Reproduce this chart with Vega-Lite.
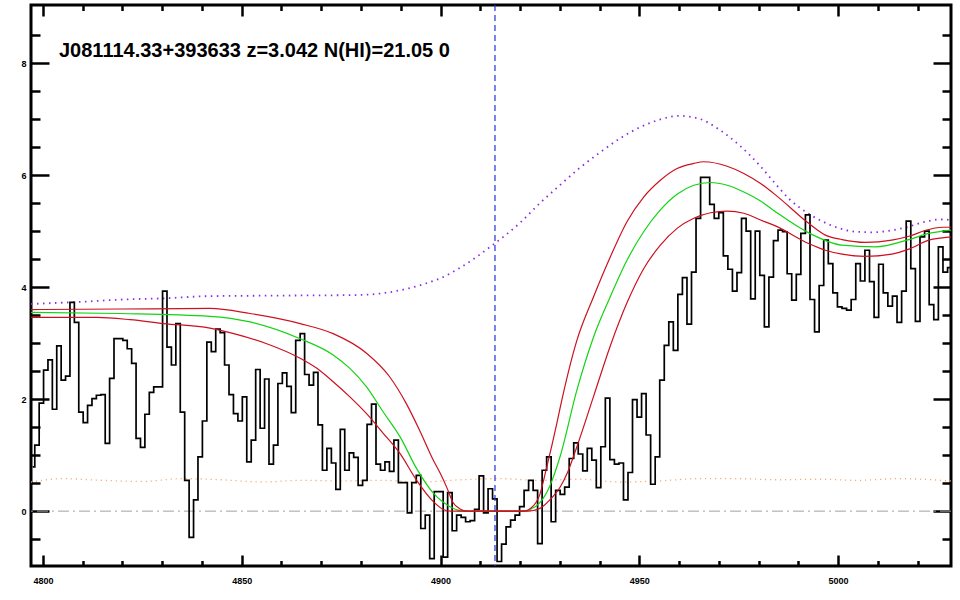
{
  "$schema": "https://vega.github.io/schema/vega-lite/v6.json",
  "width": 920,
  "height": 561,
  "autosize": {"type": "none"},
  "padding": {"left": 31, "top": 5, "right": 9, "bottom": 34},
  "background": "white",
  "config": {"view": {"stroke": "black", "strokeWidth": 3}},
  "title": {"text": "J081114.33+393633 z=3.042 N(HI)=21.05 0", "anchor": "start", "frame": "group", "orient": "top", "offset": -73, "dx": 28, "baseline": "alphabetic", "font": "Liberation Sans", "fontSize": 20, "fontWeight": "bold", "color": "black"},
  "datasets": {
    "spec": [
      {"w":4797.40,"f":0.79},{"w":4798.50,"f":1.18},{"w":4799.61,"f":1.93},{"w":4800.71,"f":2.52},{"w":4801.82,"f":2.70},{"w":4802.92,"f":1.82},{"w":4804.03,"f":2.95},{"w":4805.14,"f":2.34},{"w":4806.24,"f":2.41},{"w":4807.35,"f":3.73},
      {"w":4808.46,"f":3.37},{"w":4809.57,"f":1.77},{"w":4810.68,"f":1.58},{"w":4811.78,"f":1.89},{"w":4812.89,"f":2.01},{"w":4814.00,"f":2.07},{"w":4815.11,"f":2.08},{"w":4816.22,"f":1.21},{"w":4817.32,"f":2.37},{"w":4818.43,"f":3.08},
      {"w":4819.54,"f":3.08},{"w":4820.65,"f":3.05},{"w":4821.76,"f":2.90},{"w":4822.87,"f":2.64},{"w":4823.98,"f":1.30},{"w":4825.09,"f":1.14},{"w":4826.20,"f":1.73},{"w":4827.31,"f":2.12},{"w":4828.42,"f":2.22},{"w":4829.53,"f":2.22},
      {"w":4830.65,"f":3.93},{"w":4831.76,"f":2.93},{"w":4832.87,"f":2.61},{"w":4833.99,"f":3.35},{"w":4835.10,"f":1.77},{"w":4836.21,"f":0.55},{"w":4837.33,"f":-0.47},{"w":4838.44,"f":0.20},{"w":4839.55,"f":0.97},{"w":4840.67,"f":1.61},
      {"w":4841.79,"f":3.02},{"w":4842.90,"f":2.85},{"w":4844.02,"f":3.25},{"w":4845.13,"f":3.19},{"w":4846.25,"f":2.61},{"w":4847.36,"f":2.08},{"w":4848.48,"f":1.74},{"w":4849.60,"f":1.61},{"w":4850.71,"f":2.04},{"w":4851.83,"f":0.88},
      {"w":4852.95,"f":1.27},{"w":4854.07,"f":2.53},{"w":4855.19,"f":1.48},{"w":4856.30,"f":2.36},{"w":4857.42,"f":0.84},{"w":4858.54,"f":1.18},{"w":4859.66,"f":2.28},{"w":4860.78,"f":2.47},{"w":4861.90,"f":2.23},{"w":4863.02,"f":1.76},
      {"w":4864.14,"f":3.05},{"w":4865.26,"f":3.17},{"w":4866.38,"f":2.44},{"w":4867.50,"f":2.25},{"w":4868.62,"f":2.48},{"w":4869.74,"f":1.54},{"w":4870.86,"f":0.73},{"w":4871.99,"f":1.12},{"w":4873.11,"f":0.86},{"w":4874.23,"f":0.39},
      {"w":4875.35,"f":1.46},{"w":4876.47,"f":0.73},{"w":4877.60,"f":1.04},{"w":4878.72,"f":0.96},{"w":4879.84,"f":0.46},{"w":4880.97,"f":0.55},{"w":4882.09,"f":1.55},{"w":4883.21,"f":1.91},{"w":4884.34,"f":0.84},{"w":4885.46,"f":0.73},
      {"w":4886.59,"f":0.88},{"w":4887.72,"f":0.71},{"w":4888.84,"f":1.27},{"w":4889.97,"f":0.51},{"w":4891.09,"f":0.51},{"w":4892.22,"f":-0.03},{"w":4893.34,"f":0.51},{"w":4894.47,"f":0.64},{"w":4895.60,"f":-0.31},{"w":4896.72,"f":-0.07},
      {"w":4897.85,"f":-0.85},{"w":4898.98,"f":0.35},{"w":4900.11,"f":0.35},{"w":4901.23,"f":-0.82},{"w":4902.36,"f":0.33},{"w":4903.49,"f":-0.35},{"w":4904.62,"f":-0.07},{"w":4905.75,"f":-0.11},{"w":4906.88,"f":-0.19},{"w":4908.01,"f":-0.17},
      {"w":4909.14,"f":0.03},{"w":4910.27,"f":0.63},{"w":4911.40,"f":-0.03},{"w":4912.53,"f":0.40},{"w":4913.66,"f":0.22},{"w":4914.79,"f":-0.90},{"w":4915.93,"f":-0.59},{"w":4917.06,"f":-0.28},{"w":4918.19,"f":-0.16},{"w":4919.32,"f":-0.07},
      {"w":4920.46,"f":0.08},{"w":4921.59,"f":0.37},{"w":4922.73,"f":0.55},{"w":4923.86,"f":0.37},{"w":4924.99,"f":-0.58},{"w":4926.13,"f":0.73},{"w":4927.26,"f":0.97},{"w":4928.39,"f":-0.19},{"w":4929.53,"f":0.37},{"w":4930.66,"f":0.30},
      {"w":4931.80,"f":0.43},{"w":4932.94,"f":0.94},{"w":4934.07,"f":1.22},{"w":4935.21,"f":1.02},{"w":4936.34,"f":0.72},{"w":4937.48,"f":1.12},{"w":4938.62,"f":0.91},{"w":4939.75,"f":0.42},{"w":4940.89,"f":1.15},{"w":4942.03,"f":2.02},
      {"w":4943.17,"f":0.92},{"w":4944.31,"f":0.84},{"w":4945.45,"f":0.86},{"w":4946.59,"f":0.20},{"w":4947.72,"f":0.69},{"w":4948.86,"f":1.99},{"w":4950.00,"f":1.68},{"w":4951.14,"f":2.10},{"w":4952.28,"f":1.36},{"w":4953.42,"f":0.48},
      {"w":4954.57,"f":0.97},{"w":4955.71,"f":2.34},{"w":4956.85,"f":2.96},{"w":4957.99,"f":3.38},{"w":4959.13,"f":2.87},{"w":4960.27,"f":3.87},{"w":4961.42,"f":4.17},{"w":4962.56,"f":3.34},{"w":4963.70,"f":4.27},{"w":4964.84,"f":5.23},
      {"w":4965.99,"f":5.96},{"w":4967.13,"f":5.96},{"w":4968.28,"f":5.48},{"w":4969.42,"f":5.23},{"w":4970.56,"f":5.33},{"w":4971.71,"f":4.56},{"w":4972.85,"f":4.32},{"w":4974.00,"f":3.93},{"w":4975.14,"f":4.26},{"w":4976.29,"f":5.23},
      {"w":4977.44,"f":5.00},{"w":4978.59,"f":3.79},{"w":4979.73,"f":5.00},{"w":4980.88,"f":4.21},{"w":4982.03,"f":3.29},{"w":4983.17,"f":4.18},{"w":4984.32,"f":4.83},{"w":4985.47,"f":5.02},{"w":4986.61,"f":4.99},{"w":4987.76,"f":4.24},
      {"w":4988.91,"f":3.77},{"w":4990.06,"f":4.23},{"w":4991.21,"f":4.96},{"w":4992.36,"f":5.29},{"w":4993.51,"f":3.78},{"w":4994.66,"f":3.20},{"w":4995.81,"f":4.03},{"w":4996.96,"f":4.84},{"w":4998.11,"f":4.42},{"w":4999.26,"f":3.90},
      {"w":5000.41,"f":3.65},{"w":5001.56,"f":3.62},{"w":5002.71,"f":3.59},{"w":5003.87,"f":3.78},{"w":5005.02,"f":4.42},{"w":5006.17,"f":4.11},{"w":5007.32,"f":4.66},{"w":5008.48,"f":4.10},{"w":5009.63,"f":3.46},{"w":5010.78,"f":4.41},
      {"w":5011.94,"f":3.90},{"w":5013.09,"f":3.66},{"w":5014.25,"f":3.84},{"w":5015.40,"f":3.37},{"w":5016.56,"f":3.93},{"w":5017.71,"f":5.18},{"w":5018.87,"f":4.33},{"w":5020.02,"f":3.39},{"w":5021.18,"f":4.90},{"w":5022.33,"f":5.00},
      {"w":5023.49,"f":3.69},{"w":5024.65,"f":3.42},{"w":5025.80,"f":4.72},{"w":5026.96,"f":4.27},{"w":5028.12,"f":4.35}
    ],
    "curves": [
      {"s":"fit","w":4797,"f":3.55},{"s":"fit","w":4819.4,"f":3.53},{"s":"fit","w":4842,"f":3.48},{"s":"fit","w":4852.1,"f":3.38},{"s":"fit","w":4864.7,"f":3.08},{"s":"fit","w":4873,"f":2.79},{"s":"fit","w":4877.2,"f":2.55},{"s":"fit","w":4881.4,"f":2.22},{"s":"fit","w":4885.6,"f":1.77},{"s":"fit","w":4889.8,"f":1.33},{"s":"fit","w":4894,"f":0.76},{"s":"fit","w":4898.2,"f":0.32},{"s":"fit","w":4902.4,"f":0.08},{"s":"fit","w":4904.9,"f":0.01},{"s":"fit","w":4906.5,"f":0},{"s":"fit","w":4920,"f":0},{"s":"fit","w":4922.5,"f":0.03},{"s":"fit","w":4925,"f":0.15},{"s":"fit","w":4927.5,"f":0.45},{"s":"fit","w":4930.1,"f":0.98},{"s":"fit","w":4934.3,"f":2.16},{"s":"fit","w":4938.5,"f":3.11},{"s":"fit","w":4942.7,"f":3.83},{"s":"fit","w":4946.9,"f":4.48},{"s":"fit","w":4951.1,"f":4.99},{"s":"fit","w":4955.3,"f":5.38},{"s":"fit","w":4959.5,"f":5.66},{"s":"fit","w":4963.7,"f":5.82},{"s":"fit","w":4967.9,"f":5.87},{"s":"fit","w":4972.1,"f":5.82},{"s":"fit","w":4976.3,"f":5.70},{"s":"fit","w":4980.5,"f":5.54},{"s":"fit","w":4984.4,"f":5.34},{"s":"fit","w":4992.6,"f":4.97},{"s":"fit","w":5001,"f":4.75},{"s":"fit","w":5009.4,"f":4.72},{"s":"fit","w":5017.8,"f":4.85},{"s":"fit","w":5022.8,"f":4.96},{"s":"fit","w":5028.4,"f":5.02},
      {"s":"hi","w":4797,"f":3.60},{"s":"hi","w":4820,"f":3.61},{"s":"hi","w":4842,"f":3.62},{"s":"hi","w":4852.1,"f":3.53},{"s":"hi","w":4864.7,"f":3.35},{"s":"hi","w":4873,"f":3.17},{"s":"hi","w":4881.4,"f":2.82},{"s":"hi","w":4887.2,"f":2.40},{"s":"hi","w":4891.4,"f":1.92},{"s":"hi","w":4894.7,"f":1.45},{"s":"hi","w":4898.2,"f":0.91},{"s":"hi","w":4899.9,"f":0.68},{"s":"hi","w":4901.6,"f":0.42},{"s":"hi","w":4903.1,"f":0.16},{"s":"hi","w":4904.9,"f":0.04},{"s":"hi","w":4906.6,"f":0},{"s":"hi","w":4921,"f":0},{"s":"hi","w":4922.7,"f":0.05},{"s":"hi","w":4925,"f":0.30},{"s":"hi","w":4926.7,"f":0.78},{"s":"hi","w":4929.2,"f":1.55},{"s":"hi","w":4930.1,"f":1.85},{"s":"hi","w":4934.3,"f":3.05},{"s":"hi","w":4938.5,"f":3.83},{"s":"hi","w":4942.7,"f":4.54},{"s":"hi","w":4946.9,"f":5.17},{"s":"hi","w":4951.1,"f":5.61},{"s":"hi","w":4955.3,"f":5.91},{"s":"hi","w":4959.5,"f":6.12},{"s":"hi","w":4963.7,"f":6.21},{"s":"hi","w":4966.2,"f":6.24},{"s":"hi","w":4972.1,"f":6.16},{"s":"hi","w":4976.3,"f":6.03},{"s":"hi","w":4980.5,"f":5.85},{"s":"hi","w":4984.4,"f":5.64},{"s":"hi","w":4992.6,"f":5.14},{"s":"hi","w":4996.8,"f":4.93},{"s":"hi","w":5001,"f":4.85},{"s":"hi","w":5006.8,"f":4.80},{"s":"hi","w":5013.5,"f":4.84},{"s":"hi","w":5017.8,"f":4.91},{"s":"hi","w":5022.8,"f":5.03},{"s":"hi","w":5026.2,"f":5.07},{"s":"hi","w":5028.4,"f":5.07},
      {"s":"lo","w":4797,"f":3.46},{"s":"lo","w":4813.5,"f":3.46},{"s":"lo","w":4821.9,"f":3.42},{"s":"lo","w":4830.3,"f":3.35},{"s":"lo","w":4842,"f":3.27},{"s":"lo","w":4848,"f":3.17},{"s":"lo","w":4856.3,"f":2.99},{"s":"lo","w":4864.7,"f":2.73},{"s":"lo","w":4868.9,"f":2.55},{"s":"lo","w":4873,"f":2.31},{"s":"lo","w":4877.2,"f":2.04},{"s":"lo","w":4881.4,"f":1.74},{"s":"lo","w":4885.6,"f":1.39},{"s":"lo","w":4889.8,"f":1.03},{"s":"lo","w":4894,"f":0.55},{"s":"lo","w":4898.2,"f":0.17},{"s":"lo","w":4900.7,"f":0.03},{"s":"lo","w":4902.5,"f":0},{"s":"lo","w":4921.8,"f":0},{"s":"lo","w":4925,"f":0.05},{"s":"lo","w":4927.5,"f":0.20},{"s":"lo","w":4930.1,"f":0.43},{"s":"lo","w":4932,"f":0.70},{"s":"lo","w":4934.3,"f":1.15},{"s":"lo","w":4938.5,"f":2.05},{"s":"lo","w":4942.7,"f":2.95},{"s":"lo","w":4946.9,"f":3.72},{"s":"lo","w":4951.1,"f":4.33},{"s":"lo","w":4955.3,"f":4.75},{"s":"lo","w":4959.5,"f":5.05},{"s":"lo","w":4963.7,"f":5.23},{"s":"lo","w":4967.9,"f":5.33},{"s":"lo","w":4972.1,"f":5.36},{"s":"lo","w":4976.3,"f":5.32},{"s":"lo","w":4980.5,"f":5.20},{"s":"lo","w":4984.4,"f":5.09},{"s":"lo","w":4992.6,"f":4.78},{"s":"lo","w":4996.8,"f":4.66},{"s":"lo","w":5001,"f":4.59},{"s":"lo","w":5006.8,"f":4.55},{"s":"lo","w":5013.5,"f":4.59},{"s":"lo","w":5017.8,"f":4.68},{"s":"lo","w":5022.8,"f":4.84},{"s":"lo","w":5028.4,"f":4.90},
      {"s":"cont","w":4797,"f":3.70},{"s":"cont","w":4810,"f":3.74},{"s":"cont","w":4820,"f":3.78},{"s":"cont","w":4830,"f":3.80},{"s":"cont","w":4842,"f":3.84},{"s":"cont","w":4860,"f":3.85},{"s":"cont","w":4879,"f":3.86},{"s":"cont","w":4884,"f":3.88},{"s":"cont","w":4888,"f":3.92},{"s":"cont","w":4892,"f":3.98},{"s":"cont","w":4896,"f":4.06},{"s":"cont","w":4900,"f":4.16},{"s":"cont","w":4905,"f":4.35},{"s":"cont","w":4912.5,"f":4.72},{"s":"cont","w":4920,"f":5.15},{"s":"cont","w":4925,"f":5.50},{"s":"cont","w":4930,"f":5.82},{"s":"cont","w":4935,"f":6.13},{"s":"cont","w":4940,"f":6.40},{"s":"cont","w":4945,"f":6.65},{"s":"cont","w":4950,"f":6.85},{"s":"cont","w":4955,"f":6.99},{"s":"cont","w":4960,"f":7.06},{"s":"cont","w":4965,"f":7.01},{"s":"cont","w":4970,"f":6.82},{"s":"cont","w":4975.4,"f":6.52},{"s":"cont","w":4980.2,"f":6.18},{"s":"cont","w":4983.6,"f":5.90},{"s":"cont","w":4987.8,"f":5.57},{"s":"cont","w":4992,"f":5.34},{"s":"cont","w":4996.2,"f":5.17},{"s":"cont","w":5000.4,"f":5.05},{"s":"cont","w":5004.6,"f":4.99},{"s":"cont","w":5008.8,"f":4.98},{"s":"cont","w":5013.8,"f":5.02},{"s":"cont","w":5017.2,"f":5.07},{"s":"cont","w":5021.4,"f":5.16},{"s":"cont","w":5025.6,"f":5.21},{"s":"cont","w":5028.4,"f":5.20},
      {"s":"err","w":4797,"f":0.52},{"s":"err","w":4805,"f":0.58},{"s":"err","w":4815,"f":0.55},{"s":"err","w":4825,"f":0.53},{"s":"err","w":4835,"f":0.58},{"s":"err","w":4845,"f":0.56},{"s":"err","w":4855,"f":0.52},{"s":"err","w":4865,"f":0.55},{"s":"err","w":4875,"f":0.54},{"s":"err","w":4885,"f":0.55},{"s":"err","w":4895,"f":0.52},{"s":"err","w":4905,"f":0.56},{"s":"err","w":4915,"f":0.58},{"s":"err","w":4925,"f":0.55},{"s":"err","w":4935,"f":0.57},{"s":"err","w":4945,"f":0.52},{"s":"err","w":4955,"f":0.54},{"s":"err","w":4965,"f":0.58},{"s":"err","w":4975,"f":0.58},{"s":"err","w":4985,"f":0.56},{"s":"err","w":4995,"f":0.57},{"s":"err","w":5005,"f":0.55},{"s":"err","w":5015,"f":0.58},{"s":"err","w":5028.4,"f":0.54}
    ],
    "zero": [{"f": 0}],
    "lya": [{"w": 4913.7}]
  },
  "resolve": {"axis": {"x": "independent", "y": "independent"}},
  "layer": [
    {
      "data": {"name": "zero"},
      "mark": {"type": "rule", "color": "#A0A0A0", "strokeWidth": 1, "strokeDash": [11, 4, 2, 4]},
      "encoding": {
        "y": {"field": "f", "type": "quantitative", "scale": {"domain": [-0.98, 9.04], "nice": false, "zero": false},
              "axis": {"orient": "left", "values": [0, 2, 4, 6, 8], "tickSize": -18, "tickWidth": 2.5, "tickColor": "black", "labels": false, "domain": false, "grid": false, "title": null}}
      }
    },
    {
      "data": {"name": "curves"},
      "transform": [{"filter": "datum.s === 'err'"}],
      "mark": {"type": "line", "color": "#F59A5A", "strokeWidth": 1.3, "strokeDash": [1, 4], "clip": true, "interpolate": "monotone"},
      "encoding": {
        "x": {"field": "w", "type": "quantitative", "scale": {"domain": [4797.0, 5028.4], "nice": false, "zero": false},
              "axis": {"orient": "bottom", "values": [4800, 4850, 4900, 4950, 5000], "format": "d", "tickSize": -11, "tickWidth": 2.5, "tickColor": "black", "domain": false, "grid": false, "title": null, "labelPadding": 21, "labelFont": "Liberation Sans", "labelFontSize": 9, "labelFontWeight": "bold", "labelColor": "black"}},
        "y": {"field": "f", "type": "quantitative",
              "axis": {"orient": "left", "values": [-0.5, 0.5, 1, 1.5, 2.5, 3, 3.5, 4.5, 5, 5.5, 6.5, 7, 7.5, 8.5], "tickSize": -9, "tickWidth": 2.5, "tickColor": "black", "labels": false, "domain": false, "grid": false, "title": null}}
      }
    },
    {
      "data": {"name": "curves"},
      "transform": [{"filter": "datum.s === 'cont'"}],
      "mark": {"type": "line", "color": "#8A2BE2", "strokeWidth": 1.8, "strokeDash": [1.5, 4.5], "clip": true, "interpolate": "monotone"},
      "encoding": {
        "x": {"field": "w", "type": "quantitative",
              "axis": {"orient": "bottom", "values": [4810, 4820, 4830, 4840, 4860, 4870, 4880, 4890, 4910, 4920, 4930, 4940, 4960, 4970, 4980, 4990, 5010, 5020], "tickSize": -5.5, "tickWidth": 2.5, "tickColor": "black", "labels": false, "domain": false, "grid": false, "title": null}},
        "y": {"field": "f", "type": "quantitative",
              "axis": {"orient": "right", "values": [0, 2, 4, 6, 8], "tickSize": -18, "tickWidth": 2.5, "tickColor": "black", "labels": false, "domain": false, "grid": false, "title": null}}
      }
    },
    {
      "data": {"name": "spec"},
      "mark": {"type": "line", "color": "black", "strokeWidth": 1.7, "interpolate": "step", "clip": true},
      "encoding": {
        "x": {"field": "w", "type": "quantitative",
              "axis": {"orient": "top", "values": [4800, 4850, 4900, 4950, 5000], "tickSize": -11, "tickWidth": 2.5, "tickColor": "black", "labels": false, "domain": false, "grid": false, "title": null}},
        "y": {"field": "f", "type": "quantitative",
              "axis": {"orient": "right", "values": [-0.5, 0.5, 1, 1.5, 2.5, 3, 3.5, 4.5, 5, 5.5, 6.5, 7, 7.5, 8.5], "tickSize": -9, "tickWidth": 2.5, "tickColor": "black", "labels": false, "domain": false, "grid": false, "title": null}}
      }
    },
    {
      "data": {"name": "curves"},
      "transform": [{"filter": "datum.s === 'fit'"}],
      "mark": {"type": "line", "color": "#12D412", "strokeWidth": 1.2, "clip": true, "interpolate": "monotone"},
      "encoding": {
        "x": {"field": "w", "type": "quantitative",
              "axis": {"orient": "top", "values": [4810, 4820, 4830, 4840, 4860, 4870, 4880, 4890, 4910, 4920, 4930, 4940, 4960, 4970, 4980, 4990, 5010, 5020], "tickSize": -5.5, "tickWidth": 2.5, "tickColor": "black", "labels": false, "domain": false, "grid": false, "title": null}},
        "y": {"field": "f", "type": "quantitative",
              "axis": {"orient": "left", "values": [0, 2, 4, 6, 8], "ticks": false, "domain": false, "grid": false, "title": null, "labelPadding": 5, "labelFont": "Liberation Sans", "labelFontSize": 9, "labelFontWeight": "bold", "labelColor": "black"}}
      }
    },
    {
      "data": {"name": "curves"},
      "transform": [{"filter": "datum.s === 'hi'"}],
      "mark": {"type": "line", "color": "#CC1020", "strokeWidth": 1.2, "clip": true, "interpolate": "monotone"},
      "encoding": {
        "x": {"field": "w", "type": "quantitative", "axis": null},
        "y": {"field": "f", "type": "quantitative", "axis": null}
      }
    },
    {
      "data": {"name": "curves"},
      "transform": [{"filter": "datum.s === 'lo'"}],
      "mark": {"type": "line", "color": "#CC1020", "strokeWidth": 1.2, "clip": true, "interpolate": "monotone"},
      "encoding": {
        "x": {"field": "w", "type": "quantitative", "axis": null},
        "y": {"field": "f", "type": "quantitative", "axis": null}
      }
    },
    {
      "data": {"name": "lya"},
      "mark": {"type": "rule", "color": "#2030E0", "strokeWidth": 1.2, "strokeDash": [6, 4]},
      "encoding": {
        "x": {"field": "w", "type": "quantitative", "axis": null}
      }
    }
  ]
}
